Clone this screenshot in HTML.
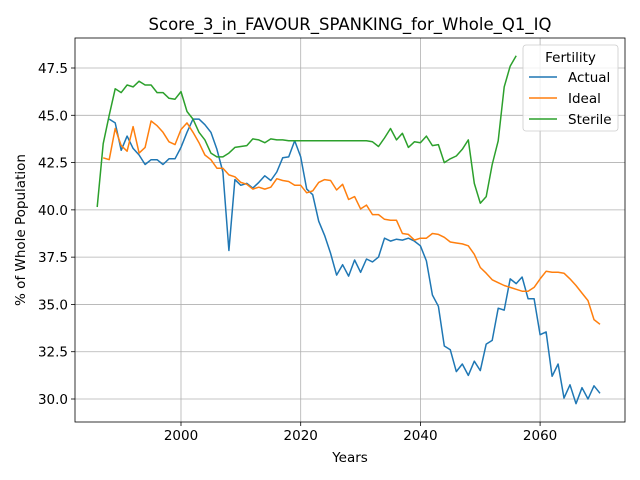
<!DOCTYPE html>
<html><head><meta charset="utf-8"><style>
html,body{margin:0;padding:0;background:#fff;}
svg{display:block;font-family:"DejaVu Sans","Liberation Sans",sans-serif;}
</style></head><body>
<svg id="chart" width="640" height="480"></svg>
<script>
const startSterile=1986;
const sterile=[40.15,43.5,45.0,46.4,46.2,46.6,46.5,46.8,46.6,46.6,46.2,46.2,45.9,45.85,46.25,45.2,44.8,44.1,43.7,43.0,42.8,42.8,43.0,43.3,43.35,43.4,43.75,43.7,43.55,43.75,43.7,43.7,43.65,43.65,43.65,43.65,43.65,43.65,43.65,43.65,43.65,43.65,43.65,43.65,43.65,43.65,43.6,43.35,43.8,44.3,43.7,44.05,43.3,43.6,43.55,43.9,43.4,43.45,42.5,42.7,42.85,43.2,43.7,41.4,40.35,40.7,42.4,43.65,46.5,47.6,48.15];
const startActual=1988;
const actual=[44.8,44.6,43.15,43.9,43.25,42.9,42.4,42.65,42.65,42.4,42.7,42.7,43.3,44.1,44.8,44.8,44.5,44.1,43.2,42.0,37.85,41.6,41.3,41.4,41.15,41.45,41.8,41.55,42.0,42.75,42.8,43.65,42.8,41.1,40.8,39.4,38.65,37.7,36.55,37.1,36.5,37.35,36.7,37.4,37.25,37.5,38.5,38.35,38.45,38.4,38.5,38.35,38.1,37.3,35.5,34.9,32.8,32.6,31.45,31.85,31.25,32.0,31.5,32.9,33.1,34.8,34.7,36.35,36.1,36.45,35.3,35.3,33.4,33.55,31.2,31.85,30.05,30.75,29.75,30.6,30.0,30.7,30.3];
const startIdeal=1987;
const ideal=[42.75,42.65,44.3,43.4,43.1,44.4,43.0,43.3,44.7,44.45,44.1,43.6,43.45,44.25,44.6,44.1,43.55,42.9,42.65,42.2,42.2,41.85,41.75,41.45,41.35,41.1,41.2,41.1,41.2,41.65,41.55,41.5,41.3,41.3,40.9,41.0,41.45,41.6,41.55,41.05,41.35,40.55,40.7,40.05,40.25,39.75,39.75,39.5,39.45,39.45,38.75,38.7,38.4,38.5,38.5,38.75,38.7,38.55,38.3,38.25,38.2,38.1,37.65,36.95,36.65,36.3,36.15,36.0,35.9,35.8,35.7,35.7,35.9,36.35,36.75,36.7,36.7,36.65,36.35,36.0,35.6,35.2,34.2,33.95];
const xTicks=[2000,2020,2040,2060];
const yTicks=[30.0,32.5,35.0,37.5,40.0,42.5,45.0,47.5];
const L=75,R=625,T=38,B=422;
function xs(yr){return 181+(yr-2000)*5.985;}
function ys(v){return 399-(v-30)*18.914;}
const svg=document.getElementById('chart');
const NS='http://www.w3.org/2000/svg';
function mk(tag,attrs,parent){const e=document.createElementNS(NS,tag);for(const k in attrs)e.setAttribute(k,attrs[k]);(parent||svg).appendChild(e);return e;}
// grid
xTicks.forEach(t=>{const x=xs(t);
 let g=mk('line',{x1:x,x2:x,y1:T,y2:B,stroke:'#b0b0b0','stroke-width':0.8});
 
 
 mk('line',{x1:x,x2:x,y1:B,y2:B+4,stroke:'#000','stroke-width':0.8});
 let tx=mk('text',{x:x,y:B+18,'text-anchor':'middle','font-size':'13.5',fill:'#000'});tx.textContent=t;
 
 
});
yTicks.forEach(t=>{const y=ys(t);
 let g=mk('line',{x1:L,x2:R,y1:y,y2:y,stroke:'#b0b0b0','stroke-width':0.8});
 
 
 mk('line',{x1:L-4,x2:L,y1:y,y2:y,stroke:'#000','stroke-width':0.8});
 let tx=mk('text',{x:L-7,y:y+5,'text-anchor':'end','font-size':'13.5',fill:'#000'});tx.textContent=t.toFixed(1);
 
 
});
function series(arr,start,color,name){
 const pts=arr.map((v,i)=>xs(start+i).toFixed(1)+','+ys(v).toFixed(1)).join(' ');
 const p=mk('polyline',{points:pts,fill:'none',stroke:color,'stroke-width':1.5,'stroke-linejoin':'round'});
 
 
}
series(actual,startActual,'#1f77b4','actual-line');
series(ideal,startIdeal,'#ff7f0e','ideal-line');
series(sterile,startSterile,'#2ca02c','sterile-line');
const fr=mk('rect',{x:L,y:T,width:R-L,height:B-T,fill:'none',stroke:'#000','stroke-width':0.8});


// legend
const lg=mk('g',{});


mk('rect',{x:523,y:45,width:95,height:86,rx:3,fill:'#fff','fill-opacity':0.8,stroke:'#ccc','stroke-width':0.8},lg);
let lt=mk('text',{x:570.5,y:62,'text-anchor':'middle','font-size':'13.5'},lg);lt.textContent='Fertility';
[['Actual','#1f77b4'],['Ideal','#ff7f0e'],['Sterile','#2ca02c']].forEach((e,i)=>{
 const y=77+i*21;
 const en=mk('g',{},lg);
 
 
 mk('line',{x1:529,x2:557,y1:y,y2:y,stroke:e[1],'stroke-width':1.5},en);
 let t=mk('text',{x:568,y:y+5,'font-size':'13.5'},en);t.textContent=e[0];
});
let tt=mk('text',{x:350,y:30,'text-anchor':'middle','font-size':'16.5'});tt.textContent='Score_3_in_FAVOUR_SPANKING_for_Whole_Q1_IQ';


let xl=mk('text',{x:350,y:462,'text-anchor':'middle','font-size':'13.5'});xl.textContent='Years';


let yl=mk('text',{x:0,y:0,'text-anchor':'middle','font-size':'13.5',transform:'translate(25,230) rotate(-90)'});yl.textContent='% of Whole Population';


</script>
</body></html>
